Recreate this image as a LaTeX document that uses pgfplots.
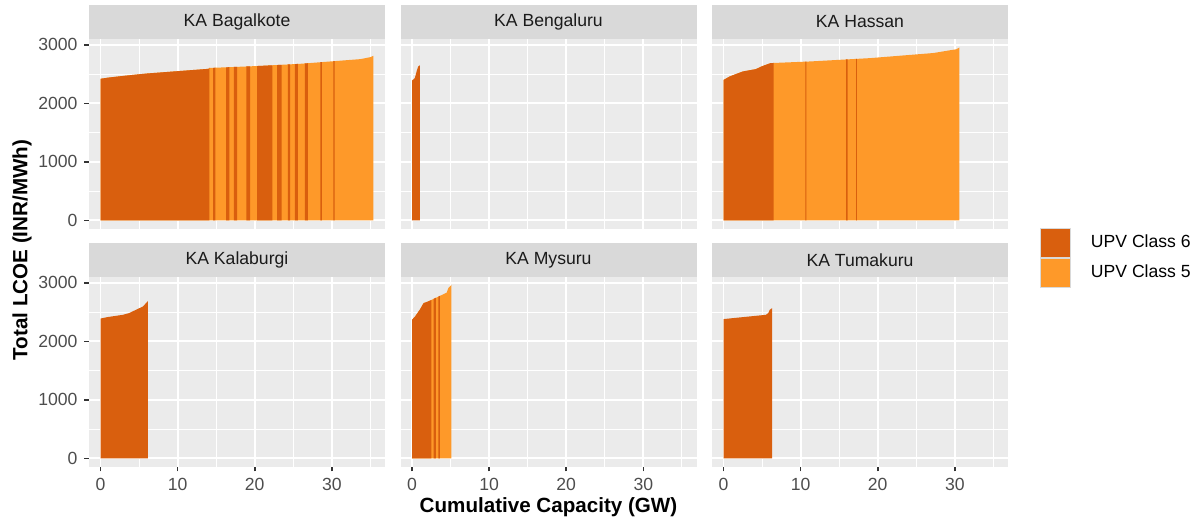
\documentclass[border=0pt]{standalone}
\usepackage{fontspec}
\setmainfont{Liberation Sans}
\usepackage{pgfplots}
\usepackage{pgfplotstable}
\pgfplotsset{compat=1.18}
\definecolor{cSix}{HTML}{D95F0E}
\definecolor{cFive}{HTML}{FE9929}
\definecolor{panelbg}{HTML}{EBEBEB}
\definecolor{stripbg}{HTML}{D9D9D9}
\definecolor{ticklab}{HTML}{4D4D4D}
\definecolor{striptext}{HTML}{1A1A1A}
\definecolor{tickcol}{HTML}{333333}

% supply curves: cumulative capacity (GW) vs total LCOE (INR/MWh)
\pgfplotstableread{
x y
0 0
0 2420
1 2440
3 2470
6 2510
10 2550
14.0 2590
14.1 2605
17 2620
20.7 2640
25.9 2676
29.8 2716
33.7 2756
35.0 2790
35.4 2812
35.4 0
}\tabBag
\pgfplotstableread{
x y
0 0
0 2390
0.35 2430
0.6 2550
0.8 2630
1.0 2650
1.0 0
}\tabBen
\pgfplotstableread{
x y
0 0
0 2400
0.8 2460
2.5 2545
4.2 2585
4.9 2630
6.1 2688
11.2 2716
19 2773
27.2 2860
30.2 2925
30.6 2955
30.6 0
}\tabHas
\pgfplotstableread{
x y
0 0
0 2390
0.9 2415
2.9 2454
3.7 2483
4.6 2540
5.5 2596
5.9 2654
6.15 2690
6.15 0
}\tabKal
\pgfplotstableread{
x y
0 0
0 2369
0.4 2426
1.0 2540
1.5 2654
2.1 2682
3.0 2739
3.9 2795
4.5 2835
4.7 2909
5.1 2966
5.1 0
}\tabMys
\pgfplotstableread{
x y
0 0
0 2381
5.5 2454
5.8 2483
6.0 2540
6.3 2568
6.3 0
}\tabTum

\pgfplotsset{
 panel/.style={
   scale only axis, width=148pt, height=95pt,
   anchor=south west,
   xmin=-1.5, xmax=36.9, ymin=-147, ymax=3100,
   axis background/.style={fill=panelbg},
   axis line style={draw=none},
   xtick={0,10,20,30}, ytick={0,1000,2000,3000},
   minor xtick={5,15,25,35}, minor ytick={500,1500,2500},
   grid=both,
   major grid style={white, line width=0.9pt},
   minor grid style={white, line width=0.45pt},
   tick align=outside, major tick length=2.25pt, minor tick length=0pt,
   xtick pos=bottom, ytick pos=left,
   tick style={tickcol, line width=0.8pt},
   xticklabels={0,10,20,30}, yticklabels={0,1000,2000,3000},
   tick label style={font=\fontsize{8.8}{10}\selectfont, text=ticklab},
 },
 noxt/.style={xticklabels={}, xtick style={draw=none}},
 noyt/.style={yticklabels={}, ytick style={draw=none}},
 seg/.style={fill=#1, draw=none, forget plot},
}

\begin{document}
\begin{tikzpicture}
\path[use as bounding box] (0,0) rectangle (598pt,260pt);

% ---- KA Bagalkote
\begin{axis}[panel, noxt, at={(44.5pt,145.5pt)}]
 \addplot[seg=cFive] table {\tabBag} -- cycle;
 \addplot[seg=cSix] coordinates {(0,0) (0,2420) (1,2440) (3,2470) (6,2510) (10,2550) (14.0,2590) (14.1,2605) (14.1,0)} -- cycle;
 \addplot[seg=cSix] coordinates {(14.6,0) (14.6,2608) (14.9,2609) (14.9,0)} -- cycle;
 \addplot[seg=cSix] coordinates {(16.3,0) (16.3,2616) (16.7,2618) (16.7,0)} -- cycle;
 \addplot[seg=cSix] coordinates {(17.3,0) (17.3,2622) (17.7,2624) (17.7,0)} -- cycle;
 \addplot[seg=cSix] coordinates {(18.9,0) (18.9,2630) (19.4,2633) (19.4,0)} -- cycle;
 \addplot[seg=cSix] coordinates {(20.3,0) (20.3,2638) (20.7,2640) (22.3,2651) (22.3,0)} -- cycle;
 \addplot[seg=cSix] coordinates {(22.9,0) (22.9,2655) (23.5,2659) (23.5,0)} -- cycle;
 \addplot[seg=cSix] coordinates {(24.3,0) (24.3,2665) (24.6,2667) (24.6,0)} -- cycle;
 \addplot[seg=cSix] coordinates {(25.2,0) (25.2,2671) (25.6,2674) (25.6,0)} -- cycle;
 \addplot[seg=cSix] coordinates {(26.5,0) (26.5,2682) (26.9,2686) (26.9,0)} -- cycle;
 \addplot[seg=cSix] coordinates {(28.5,0) (28.5,2703) (28.7,2705) (28.7,0)} -- cycle;
 \addplot[seg=cSix] coordinates {(30.2,0) (30.2,2720) (30.35,2722) (30.35,0)} -- cycle;
\end{axis}

% ---- KA Bengaluru
\begin{axis}[panel, noxt, noyt, at={(200.25pt,145.5pt)}]
 \addplot[seg=cSix] table {\tabBen} -- cycle;
\end{axis}

% ---- KA Hassan
\begin{axis}[panel, noxt, noyt, at={(356pt,145.5pt)},
   legend style={at={(1.108,0.005)}, anchor=north west, draw=none, fill=none,
     inner sep=0pt, outer sep=0pt, row sep=0pt,
     font=\fontsize{8.8}{10}\selectfont, nodes={inner sep=0pt},
     /tikz/every odd column/.append style={column sep=10pt}},
   legend cell align=left,
   legend image code/.code={\draw[#1, draw=gray!30, line width=0.5pt] (0pt,-7.25pt) rectangle (15pt,7.25pt);}]
 \addplot[seg=cFive] table {\tabHas} -- cycle;
 \addplot[seg=cSix] coordinates {(0,0) (0,2400) (0.8,2460) (2.5,2545) (4.2,2585) (4.9,2630) (6.1,2688) (6.5,2690) (6.5,0)} -- cycle;
 \addplot[seg=cSix] coordinates {(10.6,0) (10.6,2713) (10.75,2714) (10.75,0)} -- cycle;
 \addplot[seg=cSix] coordinates {(15.9,0) (15.9,2750) (16.1,2752) (16.1,0)} -- cycle;
 \addplot[seg=cSix] coordinates {(17.2,0) (17.2,2760) (17.3,2761) (17.3,0)} -- cycle;
 \addlegendimage{fill=cSix}
 \addlegendentry{UPV Class 6}
 \addlegendimage{fill=cFive}
 \addlegendentry{UPV Class 5}
\end{axis}

% ---- KA Kalaburgi
\begin{axis}[panel, at={(44.5pt,26.5pt)}]
 \addplot[seg=cSix] table {\tabKal} -- cycle;
\end{axis}

% ---- KA Mysuru
\begin{axis}[panel, noyt, at={(200.25pt,26.5pt)}]
 \addplot[seg=cFive] table {\tabMys} -- cycle;
 \addplot[seg=cSix] coordinates {(0,0) (0,2369) (0.4,2426) (1.0,2540) (1.5,2654) (2.1,2682) (2.5,2707) (2.5,0)} -- cycle;
 \addplot[seg=cSix] coordinates {(2.8,0) (2.8,2726) (3.0,2739) (3.1,2745) (3.1,0)} -- cycle;
 \addplot[seg=cSix] coordinates {(3.4,0) (3.4,2764) (3.6,2776) (3.6,0)} -- cycle;
\end{axis}

% ---- KA Tumakuru
\begin{axis}[panel, noyt, at={(356pt,26.5pt)}]
 \addplot[seg=cSix] table {\tabTum} -- cycle;
\end{axis}

% strips
\begin{scope}[every node/.style={font=\fontsize{8.8}{10}\selectfont, text=striptext}]
\fill[stripbg] (44.5pt,240.5pt) rectangle (192.5pt,257.5pt);
\fill[stripbg] (200.25pt,240.5pt) rectangle (348.25pt,257.5pt);
\fill[stripbg] (356pt,240.5pt) rectangle (504pt,257.5pt);
\fill[stripbg] (44.5pt,121.5pt) rectangle (192.5pt,138.5pt);
\fill[stripbg] (200.25pt,121.5pt) rectangle (348.25pt,138.5pt);
\fill[stripbg] (356pt,121.5pt) rectangle (504pt,138.5pt);
\node at (118.5pt,249pt) {KA Bagalkote};
\node at (274.25pt,249pt) {KA Bengaluru};
\node at (430pt,249pt) {KA Hassan};
\node at (118.5pt,130pt) {KA Kalaburgi};
\node at (274.25pt,130pt) {KA Mysuru};
\node at (430pt,130pt) {KA Tumakuru};
\end{scope}

% axis titles
\node[font=\fontsize{10.3}{12}\selectfont\bfseries] at (274.25pt,6.5pt) {Cumulative Capacity (GW)};
\node[font=\fontsize{10.3}{12}\selectfont\bfseries, rotate=90] at (11pt,135pt) {Total LCOE (INR/MWh)};
\end{tikzpicture}
\end{document}
